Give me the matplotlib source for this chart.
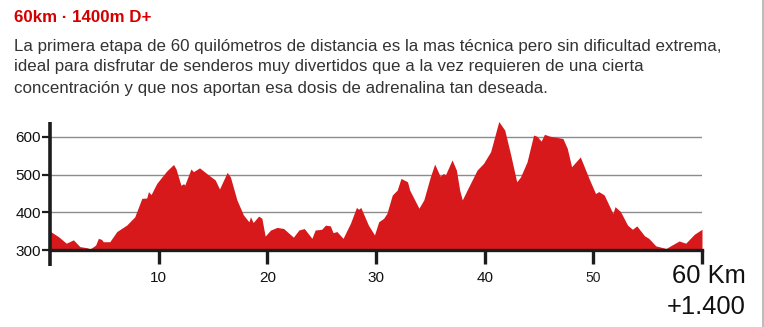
import matplotlib
matplotlib.use("Agg")
import matplotlib.pyplot as plt
from matplotlib.lines import Line2D

plt.rcParams['font.family'] = ['Liberation Sans', 'DejaVu Sans']

# Profile (km, metres)
km = [0.0, 0.8, 1.5, 2.15, 2.75, 3.4, 3.7, 4.2, 4.45, 4.75, 4.9, 5.5, 6.15, 7.05,
      7.8, 8.45, 8.9, 9.06, 9.3, 9.83, 10.75, 11.37, 11.6, 12.05, 12.3, 12.4,
      12.97, 13.2, 13.76, 14.6, 15.2, 15.6, 16.3, 16.6, 17.2, 17.8, 18.3, 18.45,
      18.7, 19.2, 19.5, 19.8, 20.3, 20.9, 21.5, 22.4, 22.9, 23.4, 24.1, 24.4,
      25.0, 25.35, 25.8, 26.05, 26.4, 26.97, 27.65, 28.2, 28.4, 28.6, 29.3,
      29.86, 30.25, 30.7, 31.0, 31.5, 31.95, 32.3, 32.9, 33.1, 33.95, 34.4,
      35.0, 35.4, 35.9, 36.2, 36.4, 37.0, 37.4, 37.7, 37.94, 38.4, 39.3, 39.9,
      40.55, 41.3, 41.85, 42.4, 42.95, 43.3, 43.9, 44.5, 44.8, 45.2, 45.5,
      46.0, 47.2, 47.6, 48.0, 48.8, 49.6, 50.2, 50.5, 51.0, 51.8, 52.0, 52.5,
      53.15, 53.6, 54.0, 54.7, 55.1, 55.75, 56.7, 57.1, 57.9, 58.5, 59.3, 60.0]
elev = [350, 335, 318, 327, 309, 306, 303, 313, 331, 328, 322, 322, 349, 366,
        388, 437, 438, 455, 447, 477, 510, 527, 515, 472, 476, 472,
        515, 508, 518, 499, 486, 462, 506, 494, 433, 393, 375, 388,
        373, 390, 384, 337, 353, 360, 357, 334, 353, 357, 331, 353,
        355, 366, 364, 346, 349, 331, 371, 413, 408, 413, 366,
        340, 375, 384, 397, 446, 459, 490, 481, 459, 411, 433,
        494, 528, 496, 503, 500, 539, 512, 459, 433, 460, 512, 530,
        561, 641, 618, 552, 481, 494, 534, 605, 602, 589, 607,
        602, 596, 570, 521, 547, 490, 450, 455, 446, 397, 415, 402,
        366, 355, 364, 338, 331, 311, 304, 311, 324, 318, 342, 355]

x_ticks = [10, 20, 30, 40, 50, 60]
x_labels = ['10', '20', '30', '40', '50', '']
y_ticks = [300, 400, 500, 600]

title = "60km · 1400m D+"
body_lines = [
    "La primera etapa de 60 quilómetros de distancia es la mas técnica pero sin dificultad extrema,",
    "ideal para disfrutar de senderos muy divertidos que a la vez requieren de una cierta",
    "concentración y que nos aportan esa dosis de adrenalina tan deseada.",
]

RED = '#d7191c'
AXC = '#1c1c1c'

fig = plt.figure(figsize=(7.64, 3.27), dpi=100)
ax = fig.add_axes([50 / 764, 1 - 250 / 327, 652 / 764, 130 / 327])

ax.fill_between(km, 300, elev, color=RED, lw=0, zorder=2)
ax.set_xlim(0, 60)
ax.set_ylim(300, 645)

for v in y_ticks[1:]:
    ax.axhline(v, color='#8c8c8c', lw=1.0, zorder=1)

ax.spines['top'].set_visible(False)
ax.spines['right'].set_visible(False)
ax.spines['left'].set_visible(False)
ax.spines['bottom'].set_color(AXC)
ax.spines['bottom'].set_linewidth(2.4)
ax.spines['bottom'].set_zorder(3)

# y axis line, running a bit below the baseline
ax.plot([0, 0], [-0.12, 0.985], transform=ax.transAxes, color=AXC, lw=2.6,
        clip_on=False, solid_capstyle='butt', zorder=4)

ax.set_xticks(x_ticks)
ax.set_xticklabels(x_labels)
ax.tick_params(axis='x', direction='out', length=10, width=2.4, color=AXC,
               pad=5, labelsize=11, labelcolor='#111111')
ax.get_xticklabels()[4].set_fontsize(10)
ax.get_xticklabels()[4].set_color('#222222')

ax.set_yticks(y_ticks)
ax.tick_params(axis='y', direction='out', length=6, width=1.6, color=AXC,
               pad=0.5, labelsize=11, labelcolor='#111111')

fig.text(746 / 764, 1 - 276 / 327, "60 Km", ha='right', va='center',
         fontsize=18.4, color='#111111')
fig.text(746 / 764, 1 - 307 / 327, "+1.400", ha='right', va='center',
         fontsize=18.4, color='#111111')

fig.text(14 / 764, 1 - 17 / 327, title, ha='left', va='center',
         fontsize=12.2, fontweight='bold', color='#d40000')
for i, line in enumerate(body_lines):
    fig.text(14 / 764, 1 - (46 + 21 * i) / 327, line, ha='left', va='center',
             fontsize=12.2, color='#333333')

fig.add_artist(Line2D([762.5 / 764, 762.5 / 764], [0, 1], color='#b0b0b0', lw=1.2))

fig.savefig('out.png', dpi=100)
